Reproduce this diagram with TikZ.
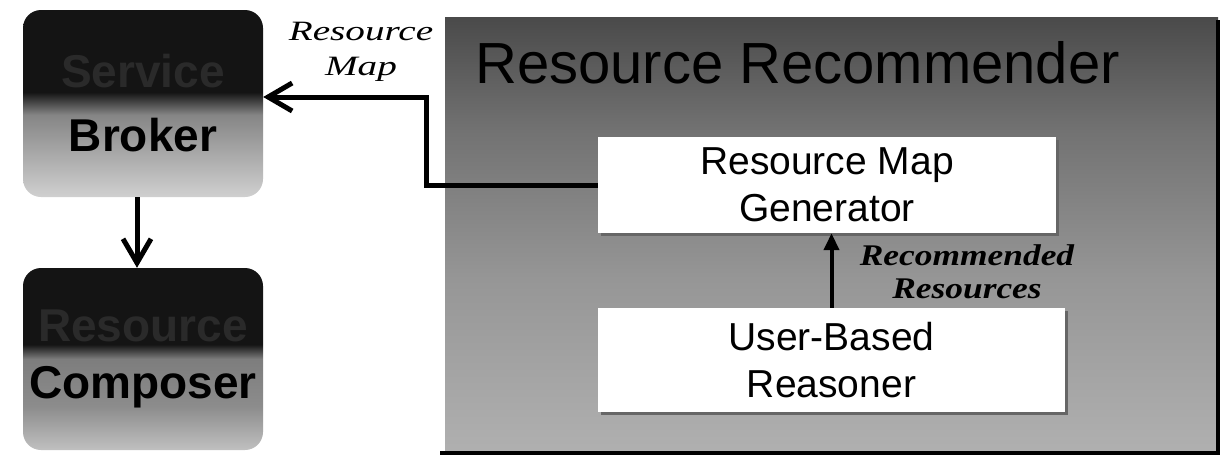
\documentclass[tikz,border=0pt]{standalone}
\usepackage{fontspec}
\setmainfont{Liberation Serif}
\newfontfamily\arial{Liberation Sans}
\newfontfamily\mapfont[FakeStretch=1.4]{Liberation Serif}
\newfontfamily\recfont[FakeStretch=1.18]{Liberation Serif}
\usetikzlibrary{arrows.meta,shadows,calc}

% grey tones of the component boxes and the recommender panel
\definecolor{brDark}{HTML}{141414}
\definecolor{brMid}{HTML}{858585}
\definecolor{brLight}{HTML}{D0D0D0}
\definecolor{coMid}{HTML}{7D7D7D}
\definecolor{coLow}{HTML}{8C8C8C}
\definecolor{coLight}{HTML}{C0C0C0}
\definecolor{paTop}{HTML}{4A4A4A}
\definecolor{paUpper}{HTML}{727272}
\definecolor{paLower}{HTML}{969696}
\definecolor{paBottom}{HTML}{B0B0B0}
\definecolor{ghost}{HTML}{2A2A2A}

% vertical shadings: 25bp = bottom edge, 75bp = top edge of the path
\pgfdeclareverticalshading{brokershade}{100bp}{color(0bp)=(brLight); color(25bp)=(brLight); color(47bp)=(brMid); color(53bp)=(brDark); color(100bp)=(brDark)}
\pgfdeclareverticalshading{composershade}{100bp}{color(0bp)=(coLight); color(25bp)=(coLight); color(37bp)=(coLow); color(50bp)=(coMid); color(54bp)=(brDark); color(100bp)=(brDark)}
\pgfdeclareverticalshading{panelshade}{100bp}{color(0bp)=(paBottom); color(25bp)=(paBottom); color(45bp)=(paLower); color(62bp)=(paUpper); color(75bp)=(paTop); color(100bp)=(paTop)}

\tikzset{
  darkbox/.style={rounded corners=18pt, inner sep=0pt, align=center,
    minimum width=240pt, shade,
    font=\arial\bfseries\fontsize{46}{64}\selectfont},
  whitebox/.style={fill=white, inner sep=0pt, align=center,
    drop shadow={shadow xshift=2.5pt, shadow yshift=-2.5pt, fill=black!60, opacity=1},
    font=\arial\fontsize{39}{47}\selectfont},
  conn/.style={line width=5pt, black},
  barb/.style={-{Straight Barb[length=24pt, width=28pt, line width=5pt]}},
  uptip/.style={line width=4pt, -{Triangle[length=17pt, width=15pt]}}
}

\begin{document}
\begin{tikzpicture}[x=1pt, y=-1pt]
\useasboundingbox (0,0) rectangle (1228,464);
\fill[white] (0,0) rectangle (1228,464);

% left column: broker and composer
\node[darkbox, shading=brokershade, minimum height=187pt] (broker) at (143,103.5)
  {{\color{ghost}Service}\\Broker};
\node[darkbox, shading=composershade, minimum height=182pt,
      font=\arial\bfseries\fontsize{46}{57}\selectfont] (composer) at (143,359)
  {{\color{ghost}Resource}\\Composer};

% recommender panel with its framed right and bottom edges
\node[shade, shading=panelshade, inner sep=0pt, minimum width=773pt,
      minimum height=436pt, anchor=north west] (panel) at (445,17) {};
\draw[line width=4pt, black] ([yshift=-3pt]panel.north east) -- (panel.south east)
  -- ([xshift=-5pt]panel.south west);
\node[anchor=base west, inner sep=0pt, font=\arial\fontsize{58}{58}\selectfont]
  (title) at (475,83) {Resource Recommender};

% inner components
\node[whitebox, minimum width=458pt, minimum height=96pt] (gen) at (827,185)
  {Resource Map\\Generator};
\node[whitebox, minimum width=467pt, minimum height=104pt] (reasoner) at (831.5,360)
  {User-Based\\Reasoner};

% connectors
\draw[conn, barb] (gen.west) -- ++(-171,0) |- ([yshift=6.5pt]broker.east);
\draw[conn, barb] ([xshift=-6pt]broker.south) -- ([xshift=-6pt]composer.north);
\draw[uptip] (reasoner.north) -- (reasoner.north |- gen.south);

% connector labels
\node[align=center, inner sep=0pt, font=\mapfont\itshape\fontsize{28}{35}\selectfont]
  (maplabel) at (361,51.5) {Resource\\Map};
\node[align=center, inner sep=0pt, font=\recfont\bfseries\itshape\fontsize{30}{33}\selectfont]
  (reclabel) at (967,271.5) {Recommended\\Resources};
\end{tikzpicture}
\end{document}
